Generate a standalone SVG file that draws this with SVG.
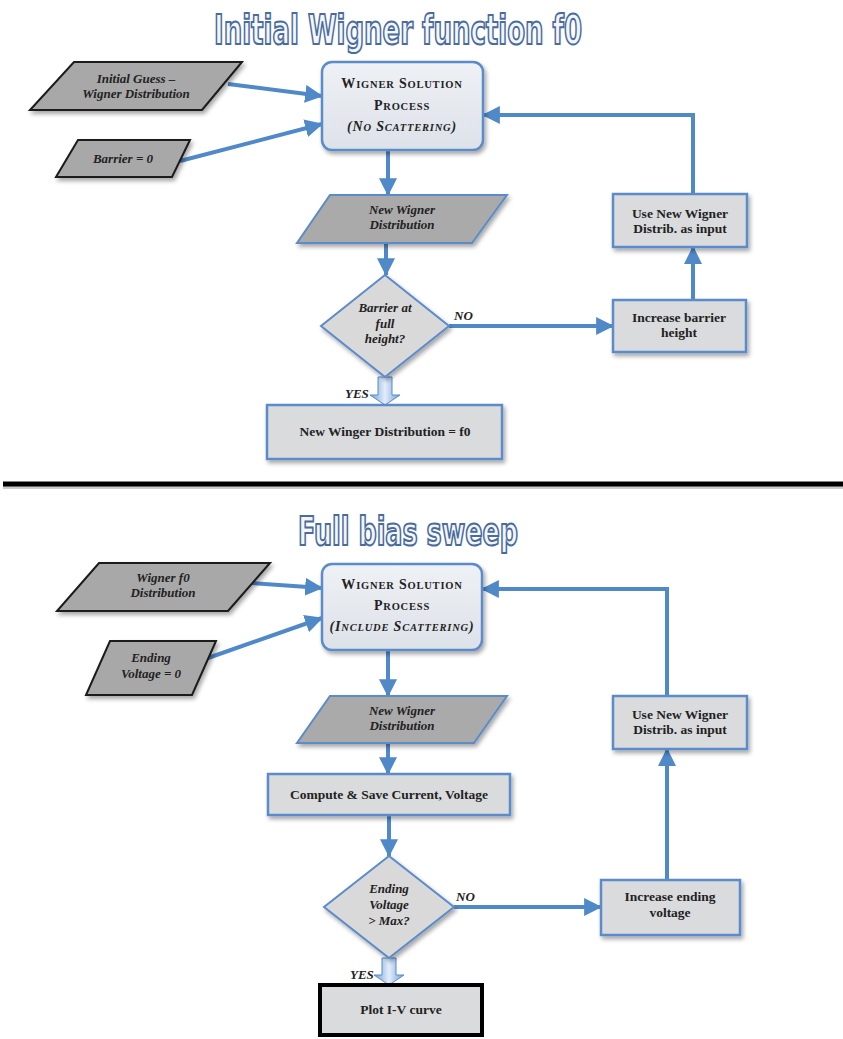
<svg xmlns="http://www.w3.org/2000/svg" width="843" height="1039" viewBox="0 0 843 1039">
<style>
.title{font-family:"DejaVu Sans Condensed","DejaVu Sans",sans-serif;font-stretch:condensed;font-weight:bold;fill:#f3f6fb;stroke:#4a6b9c;stroke-width:2px;text-anchor:middle}
.t{font-family:"Liberation Serif","DejaVu Serif",serif;font-weight:bold;font-size:13.5px;fill:#222;text-anchor:middle}
.ti{font-family:"Liberation Serif","DejaVu Serif",serif;font-weight:bold;font-style:italic;font-size:13px;fill:#222;text-anchor:middle}
.sc{font-family:"Liberation Serif","DejaVu Serif",serif;font-weight:bold;font-size:14px;fill:#222;text-anchor:middle;letter-spacing:0.8px}
.s{font-size:10.5px}
.input{fill:#a8a8a8;stroke:#1a1a1a;stroke-width:2}
.data{fill:#aaaaaa;stroke:#5b8bc9;stroke-width:2}
.proc{fill:#dadbdd;stroke:#5b8bc9;stroke-width:2.5}
.wsp{fill:url(#wspg);stroke:#5b8bc9;stroke-width:2.5}
.dec{fill:#d9d9da;stroke:#5b8bc9;stroke-width:2}
.conn{fill:none;stroke:#5089c8;stroke-width:4}
.yes{fill:url(#yesg);stroke:#5b8bc9;stroke-width:1}
.lbl{font-family:"Liberation Serif","DejaVu Serif",serif;font-weight:bold;font-style:italic;font-size:13px;fill:#222}
</style>
<defs>
<linearGradient id="wspg" x1="0" y1="0" x2="0" y2="1">
<stop offset="0" stop-color="#eef1f5"/><stop offset="1" stop-color="#dde2e9"/>
</linearGradient>
<linearGradient id="yesg" x1="0" y1="0" x2="1" y2="0">
<stop offset="0" stop-color="#6f9ed8"/><stop offset="0.5" stop-color="#e3eefa"/><stop offset="1" stop-color="#6f9ed8"/>
</linearGradient>
<filter id="sh" x="-20%" y="-20%" width="140%" height="150%">
<feDropShadow dx="2" dy="3" stdDeviation="2" flood-color="#000" flood-opacity="0.35"/>
</filter>
<marker id="ah" markerUnits="userSpaceOnUse" markerWidth="18" markerHeight="18" viewBox="0 0 16 16" refX="15" refY="8" orient="auto">
<path d="M0,0 L16,8 L0,16 z" fill="#5089c8"/>
</marker>
</defs>
<rect width="843" height="1039" fill="#ffffff"/>

<!-- titles -->
<text class="title" x="398" y="44" font-size="41" textLength="368" lengthAdjust="spacingAndGlyphs">Initial Wigner function f0</text>
<text class="title" x="408" y="545" font-size="39" textLength="220" lengthAdjust="spacingAndGlyphs">Full bias sweep</text>

<!-- separator -->
<g id="separator">
<line x1="3" y1="487" x2="843" y2="487" stroke="#999" stroke-width="4" opacity="0.5"/>
<line x1="3" y1="484" x2="843" y2="484" stroke="#000" stroke-width="5"/>
</g>

<!-- connectors -->
<g id="connectors">
<line class="conn" x1="228" y1="84" x2="322" y2="96" marker-end="url(#ah)"/>
<line class="conn" x1="180" y1="161" x2="322" y2="124" marker-end="url(#ah)"/>
<line class="conn" x1="388" y1="150" x2="388" y2="195" marker-end="url(#ah)"/>
<line class="conn" x1="386" y1="243" x2="386" y2="275" marker-end="url(#ah)"/>
<line class="conn" x1="449" y1="326" x2="613" y2="326" marker-end="url(#ah)"/>
<line class="conn" x1="693" y1="300" x2="693" y2="247" marker-end="url(#ah)"/>
<path class="conn" d="M693,194 V115 H483" marker-end="url(#ah)"/>
<polygon class="yes" points="378,377 392,377 392,395 400,395 385,405 370,395 378,395"/>
<text class="lbl" x="454" y="320">NO</text>
<text class="lbl" x="345" y="398">YES</text>

<line class="conn" x1="252" y1="583" x2="322" y2="588" marker-end="url(#ah)"/>
<line class="conn" x1="208" y1="658" x2="322" y2="618" marker-end="url(#ah)"/>
<line class="conn" x1="388" y1="650" x2="388" y2="696" marker-end="url(#ah)"/>
<line class="conn" x1="388" y1="743" x2="388" y2="774" marker-end="url(#ah)"/>
<line class="conn" x1="389" y1="815" x2="389" y2="856" marker-end="url(#ah)"/>
<line class="conn" x1="454" y1="907" x2="601" y2="907" marker-end="url(#ah)"/>
<line class="conn" x1="667" y1="880" x2="667" y2="749" marker-end="url(#ah)"/>
<path class="conn" d="M667,696 V589 H482" marker-end="url(#ah)"/>
<polygon class="yes" points="382,958 396,958 396,975 404,975 389,985 374,975 382,975"/>
<text class="lbl" x="456" y="901">NO</text>
<text class="lbl" x="350" y="979">YES</text>
</g>

<!-- top nodes -->
<g id="n_guess">
<polygon class="input" filter="url(#sh)" points="74,62 242,62 202,110 30,110"/>
<text class="ti" x="136" y="83">Initial Guess –</text>
<text class="ti" x="136" y="98">Wigner Distribution</text>
</g>
<g id="n_barrier0">
<polygon class="input" filter="url(#sh)" points="78,140 190,140 172,177 56,177"/>
<text class="ti" x="123" y="163">Barrier = 0</text>
</g>
<g id="n_wsp1">
<rect class="wsp" filter="url(#sh)" x="322" y="62" width="161" height="88" rx="10"/>
<text class="sc" x="402" y="88">W<tspan class="s">IGNER</tspan> S<tspan class="s">OLUTION</tspan></text>
<text class="sc" x="402" y="110">P<tspan class="s">ROCESS</tspan></text>
<text class="sc" x="402" y="131" font-style="italic">(N<tspan class="s">O</tspan> S<tspan class="s">CATTERING</tspan>)</text>
</g>
<g id="n_nwd1">
<polygon class="data" filter="url(#sh)" points="330,195 507,195 472,243 297,243"/>
<text class="ti" x="402" y="214">New Wigner</text>
<text class="ti" x="402" y="229">Distribution</text>
</g>
<g id="n_dec1">
<polygon class="dec" filter="url(#sh)" points="385,275 449,326 385,377 321,326"/>
<text class="ti" x="385" y="312">Barrier at</text>
<text class="ti" x="385" y="328">full</text>
<text class="ti" x="385" y="343">height?</text>
</g>
<g id="n_inc1">
<rect class="proc" filter="url(#sh)" x="613" y="300" width="133" height="52"/>
<text class="t" x="679" y="322">Increase barrier</text>
<text class="t" x="679" y="337">height</text>
</g>
<g id="n_use1">
<rect class="proc" filter="url(#sh)" x="613" y="194" width="134" height="53"/>
<text class="t" x="680" y="218">Use New Wigner</text>
<text class="t" x="680" y="233">Distrib. as input</text>
</g>
<g id="n_f0">
<rect class="proc" filter="url(#sh)" x="267" y="405" width="235" height="54"/>
<text class="t" x="385" y="436">New Winger Distribution = f0</text>
</g>

<!-- bottom nodes -->
<g id="n_f0in">
<polygon class="input" filter="url(#sh)" points="99,563 270,563 228,611 57,611"/>
<text class="ti" x="163" y="582">Wigner f0</text>
<text class="ti" x="163" y="597">Distribution</text>
</g>
<g id="n_ending">
<polygon class="input" filter="url(#sh)" points="110,641 216,641 192,695 86,695"/>
<text class="ti" x="151" y="662">Ending</text>
<text class="ti" x="151" y="678">Voltage = 0</text>
</g>
<g id="n_wsp2">
<rect class="wsp" filter="url(#sh)" x="322" y="564" width="160" height="86" rx="10"/>
<text class="sc" x="402" y="589">W<tspan class="s">IGNER</tspan> S<tspan class="s">OLUTION</tspan></text>
<text class="sc" x="402" y="610">P<tspan class="s">ROCESS</tspan></text>
<text class="sc" x="402" y="631" font-style="italic">(I<tspan class="s">NCLUDE</tspan> S<tspan class="s">CATTERING</tspan>)</text>
</g>
<g id="n_nwd2">
<polygon class="data" filter="url(#sh)" points="330,696 507,696 474,743 297,743"/>
<text class="ti" x="402" y="715">New Wigner</text>
<text class="ti" x="402" y="730">Distribution</text>
</g>
<g id="n_compute">
<rect class="proc" filter="url(#sh)" x="268" y="774" width="242" height="41"/>
<text class="t" x="389" y="799">Compute &amp; Save Current, Voltage</text>
</g>
<g id="n_dec2">
<polygon class="dec" filter="url(#sh)" points="389,856 454,907 389,958 324,907"/>
<text class="ti" x="389" y="893">Ending</text>
<text class="ti" x="389" y="909">Voltage</text>
<text class="ti" x="389" y="925">&gt; Max?</text>
</g>
<g id="n_inc2">
<rect class="proc" filter="url(#sh)" x="601" y="880" width="139" height="55"/>
<text class="t" x="670" y="901">Increase ending</text>
<text class="t" x="670" y="917">voltage</text>
</g>
<g id="n_use2">
<rect class="proc" filter="url(#sh)" x="613" y="696" width="134" height="53"/>
<text class="t" x="680" y="719">Use New Wigner</text>
<text class="t" x="680" y="734">Distrib. as input</text>
</g>
<g id="n_plot">
<rect x="320" y="985" width="162" height="50" fill="#dadbdd" stroke="#000" stroke-width="4"/>
<text class="t" x="401" y="1014" font-size="15.5">Plot I-V curve</text>
</g>
</svg>
